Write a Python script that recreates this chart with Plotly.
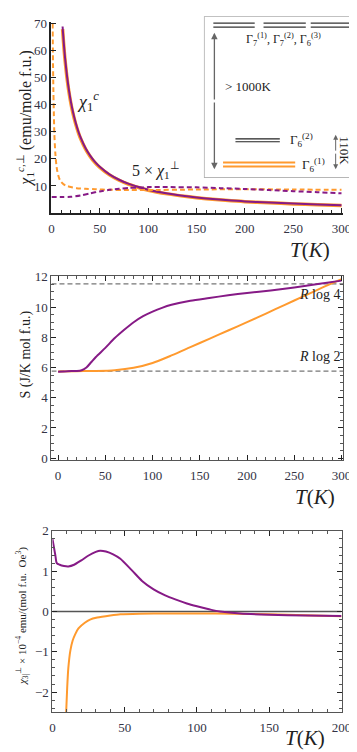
import plotly.graph_objects as go

# --- Panel 1: chi_1 (emu/mole f.u.) ---
t_chic = [11.5, 12, 13, 14, 15, 16, 18, 20, 22, 25, 28, 30, 35, 40, 45, 50, 60, 70, 80, 90,
          100, 120, 140, 160, 180, 200, 225, 250, 275, 300]
chic_purple = [68.8, 66.2, 61.5, 57.4, 54.0, 50.8, 45.5, 41.2, 37.7, 33.4, 29.9, 28.0, 24.1, 21.2,
               18.9, 17.1, 14.3, 12.3, 10.8, 9.6, 8.6, 7.2, 6.2, 5.4, 4.8, 4.3, 3.9, 3.5, 3.2, 2.9]
chic_orange = [67.8, 65.3, 60.6, 56.6, 53.2, 50.0, 44.8, 40.6, 37.1, 32.9, 29.5, 27.6, 23.8, 20.9,
               18.6, 16.8, 14.1, 12.1, 10.6, 9.45, 8.45, 7.1, 6.1, 5.3, 4.7, 4.2, 3.8, 3.4, 3.1, 2.8]

t_perp_or = [1.2, 1.5, 2, 2.5, 3, 4, 5, 6, 8, 10, 13, 16, 20, 26, 35, 45, 60, 80, 100, 150, 200, 250, 300]
perp_orange = [70, 58, 45, 36, 29, 22, 18, 15.5, 12.8, 11.5, 10.5, 10.0, 9.6, 9.2, 9.0, 8.8, 8.6, 8.5,
               8.5, 8.7, 8.8, 8.7, 8.6]
t_perp_pu = [0, 10, 20, 30, 40, 50, 60, 70, 80, 90, 100, 120, 150, 175, 200, 225, 250, 275, 300]
perp_purple = [5.9, 5.9, 6.0, 6.5, 7.3, 8.0, 8.6, 9.0, 9.3, 9.4, 9.6, 9.6, 9.5, 9.2, 8.9, 8.5, 8.1,
               7.7, 7.3]

# --- Panel 2: entropy S (J/K mol f.u.) ---
t_s_pu = [0, 10, 20, 25, 30, 35, 40, 50, 60, 70, 80, 90, 100, 110, 120, 140, 160, 180, 200, 225,
          250, 275, 300]
s_purple = [5.72, 5.76, 5.77, 5.82, 6.0, 6.35, 6.7, 7.3, 7.95, 8.5, 9.0, 9.4, 9.7, 9.95, 10.15,
            10.42, 10.6, 10.78, 10.93, 11.1, 11.3, 11.52, 11.75]
t_s_or = [0, 20, 40, 60, 80, 100, 120, 140, 160, 180, 200, 220, 240, 260, 280, 300]
s_orange = [5.74, 5.76, 5.77, 5.82, 5.98, 6.3, 6.8, 7.35, 7.9, 8.45, 9.0, 9.57, 10.15, 10.72, 11.3, 11.85]
s_levels = [11.53, 5.76]          # R log 4, R log 2
s_level_labels = ["<i>R</i> log 4", "<i>R</i> log 2"]

# --- Panel 3: chi_3 ---
t_c3_pu = [0, 1, 2, 3, 5, 8, 11, 15, 20, 25, 30, 33, 37, 42, 47, 55, 62, 70, 78, 85, 93, 100, 110,
           116, 130, 150, 175, 200]
c3_purple = [1.80, 1.6, 1.4, 1.2, 1.16, 1.13, 1.12, 1.16, 1.27, 1.39, 1.48, 1.51, 1.49, 1.42, 1.31,
             1.02, 0.76, 0.55, 0.40, 0.30, 0.20, 0.13, 0.04, 0.0, -0.05, -0.08, -0.10, -0.11]
t_c3_or = [9.5, 10.2, 11, 12.4, 14, 15.8, 18, 22.4, 26, 31, 40, 47, 60, 80, 100, 125, 150, 175, 200]
c3_orange = [-2.5, -1.9, -1.4, -0.97, -0.72, -0.56, -0.42, -0.28, -0.2, -0.15, -0.1, -0.07, -0.055,
             -0.05, -0.05, -0.055, -0.07, -0.09, -0.12]

# --- inset level scheme (diagram units 0..100) ---
lvl_top = [96.1, 93.7]
lvl_top_x = [(5.8, 33.5), (39.4, 67.7), (71.0, 98.7)]
lvl_g62 = [23.9, 22.1]
lvl_g61 = [9.2, 6.7]

PURPLE = "#861a86"
ORANGE = "#ff9a2e"
W, H = 357, 752
SERIF = "Liberation Serif"
TICKC = "#333344"
SMOOTH = dict(shape="spline", smoothing=0.7)


def py(p):
    return 1 - p / H


def px(p):
    return p / W


fig = go.Figure()

# panel 1
fig.add_trace(go.Scatter(x=t_chic, y=chic_orange, mode="lines",
                         line=dict(color=ORANGE, width=3.5, **SMOOTH), xaxis="x", yaxis="y"))
fig.add_trace(go.Scatter(x=t_chic, y=chic_purple, mode="lines",
                         line=dict(color=PURPLE, width=2, **SMOOTH), xaxis="x", yaxis="y"))
fig.add_trace(go.Scatter(x=t_perp_or, y=perp_orange, mode="lines",
                         line=dict(color=ORANGE, width=2, dash="5px,3px", **SMOOTH), xaxis="x", yaxis="y"))
fig.add_trace(go.Scatter(x=t_perp_pu, y=perp_purple, mode="lines",
                         line=dict(color=PURPLE, width=2, dash="5px,3px", **SMOOTH), xaxis="x", yaxis="y"))

# panel 2
for lv in s_levels:
    fig.add_trace(go.Scatter(x=[-7, 302], y=[lv, lv], mode="lines",
                             line=dict(color="#777777", width=1.2, dash="5px,3px"),
                             xaxis="x2", yaxis="y2"))
fig.add_trace(go.Scatter(x=t_s_or, y=s_orange, mode="lines", line=dict(color=ORANGE, width=2, **SMOOTH),
                         xaxis="x2", yaxis="y2"))
fig.add_trace(go.Scatter(x=t_s_pu, y=s_purple, mode="lines", line=dict(color=PURPLE, width=2, **SMOOTH),
                         xaxis="x2", yaxis="y2"))

# panel 3
fig.add_trace(go.Scatter(x=[0, 200], y=[0, 0], mode="lines", line=dict(color="#555555", width=1.5),
                         xaxis="x3", yaxis="y3"))
fig.add_trace(go.Scatter(x=t_c3_or, y=c3_orange, mode="lines", line=dict(color=ORANGE, width=2, **SMOOTH),
                         xaxis="x3", yaxis="y3"))
fig.add_trace(go.Scatter(x=t_c3_pu, y=c3_purple, mode="lines", line=dict(color=PURPLE, width=2, **SMOOTH),
                         xaxis="x3", yaxis="y3"))

# inset levels
for y0 in lvl_top:
    for xa, xb in lvl_top_x:
        fig.add_trace(go.Scatter(x=[xa, xb], y=[y0, y0], mode="lines",
                                 line=dict(color="#333333", width=1.2), xaxis="x4", yaxis="y4"))
for y0 in lvl_g62:
    fig.add_trace(go.Scatter(x=[20.6, 50.3], y=[y0, y0], mode="lines",
                             line=dict(color="#222222", width=1.2), xaxis="x4", yaxis="y4"))
for y0 in lvl_g61:
    fig.add_trace(go.Scatter(x=[12.3, 60.6], y=[y0, y0], mode="lines",
                             line=dict(color=ORANGE, width=2), xaxis="x4", yaxis="y4"))

tick_font = dict(family=SERIF, size=13, color=TICKC)
common = dict(showgrid=False, zeroline=False, showline=True, linecolor="#222222", tickfont=tick_font,
              ticks="inside", tickcolor="#222222")

fig.update_layout(
    width=W, height=H, margin=dict(l=0, r=0, t=0, b=0),
    paper_bgcolor="white", plot_bgcolor="white", showlegend=False,
    xaxis=dict(common, domain=[px(42), px(345)], range=[0, 302], anchor="y", linewidth=1.5,
               tickvals=[0, 50, 100, 150, 200, 250, 300], ticklen=5, ticklabelstandoff=3,
               minor=dict(dtick=10, tick0=0, ticklen=3, ticks="inside", tickcolor="#222222")),
    yaxis=dict(common, domain=[py(201.6), py(7)], range=[0, 70.5], anchor="x", linewidth=1.5,
               tickvals=[10, 20, 30, 40, 50, 60, 70], ticklen=5),
    xaxis2=dict(common, domain=[px(42), px(345)], range=[-7, 302], anchor="y2", mirror="allticks",
                linewidth=1, linecolor="#555555", tickvals=[0, 50, 100, 150, 200, 250, 300], ticklen=5,
                ticklabelstandoff=3,
                minor=dict(dtick=10, tick0=0, ticklen=3, ticks="inside", tickcolor="#555555")),
    yaxis2=dict(common, domain=[py(453), py(266)], range=[-0.13, 12.03], anchor="x2", mirror="allticks",
                linewidth=1, linecolor="#555555", tickvals=[0, 2, 4, 6, 8, 10, 12], ticklen=5,
                minor=dict(dtick=0.5, tick0=0, ticklen=3, ticks="inside", tickcolor="#555555")),
    xaxis3=dict(common, domain=[px(43), px(343)], range=[0, 200], anchor="y3", mirror="allticks",
                linewidth=1, linecolor="#555555", tickvals=[0, 50, 100, 150, 200], ticklen=5,
                ticklabelstandoff=3,
                minor=dict(dtick=10, tick0=0, ticklen=3, ticks="inside", tickcolor="#555555")),
    yaxis3=dict(common, domain=[py(709.5), py(525)], range=[-2.5, 2], anchor="x3", mirror="allticks",
                linewidth=1, linecolor="#555555", tickvals=[-2, -1, 0, 1, 2], ticklen=5,
                minor=dict(dtick=0.2, tick0=0, ticklen=3, ticks="inside", tickcolor="#555555")),
    xaxis4=dict(domain=[px(201), px(356)], range=[0, 100], anchor="y4", visible=False, fixedrange=True),
    yaxis4=dict(domain=[py(165), py(2)], range=[0, 100], anchor="x4", visible=False, fixedrange=True),
)

# inset frame and arrows
fig.add_shape(type="rect", xref="x4 domain", yref="y4 domain", x0=0, x1=1, y0=0, y1=1,
              line=dict(color="#aaaaaa", width=1.5), fillcolor="rgba(0,0,0,0)", layer="below")
arrow = dict(showarrow=True, arrowhead=2, arrowsize=1, arrowwidth=1.3, arrowcolor="#666666",
             xref="x4", yref="y4", axref="x4", ayref="y4", text="")
fig.add_annotation(arrow, x=6.5, y=90.2, ax=6.5, ay=47.5)
fig.add_annotation(arrow, x=6.5, y=4.9, ax=6.5, ay=47.5)
fig.add_annotation(dict(arrow, arrowwidth=1), x=87.7, y=26.4, ax=87.7, ay=15.6)
fig.add_annotation(dict(arrow, arrowwidth=1), x=87.7, y=4.9, ax=87.7, ay=15.6)

lab = dict(showarrow=False, font=dict(family=SERIF, size=13, color="#222222"))
fig.add_annotation(lab, xref="x4", yref="y4", x=52.9, y=86.0, xanchor="center", yanchor="middle",
                   text="Γ<sub>7</sub><sup>(1)</sup>, Γ<sub>7</sub><sup>(2)</sup>, Γ<sub>6</sub><sup>(3)</sup>",
                   font=dict(family=SERIF, size=12, color="#222222"))
fig.add_annotation(lab, xref="x4", yref="y4", x=12.3, y=56.4, xanchor="left", yanchor="middle",
                   text="&gt; 1000K")
fig.add_annotation(lab, xref="x4", yref="y4", x=55.5, y=23.0, xanchor="left", yanchor="middle",
                   text="Γ<sub>6</sub><sup>(2)</sup>")
fig.add_annotation(lab, xref="x4", yref="y4", x=63.9, y=7.4, xanchor="left", yanchor="middle",
                   text="Γ<sub>6</sub><sup>(1)</sup>")
fig.add_annotation(lab, xref="x4", yref="y4", x=93.5, y=16.6, xanchor="center", yanchor="middle",
                   textangle=90, text="110K")

# curve labels
fig.add_annotation(lab, xref="x", yref="y", x=38, y=41, xanchor="center", yanchor="middle",
                   text="<i>χ</i><sub>1</sub><sup><i>c</i></sup>",
                   font=dict(family=SERIF, size=18, color="#222222"))
fig.add_annotation(lab, xref="x", yref="y", x=108, y=16, xanchor="center", yanchor="middle",
                   text="5 × <i>χ</i><sub>1</sub><sup>⊥</sup>",
                   font=dict(family=SERIF, size=16, color="#222222"))
for lv, txt, yy in zip(s_levels, s_level_labels, [10.85, 6.75]):
    fig.add_annotation(lab, xref="x2", yref="y2", x=300, y=yy, xanchor="right", yanchor="middle",
                       text=txt, font=dict(family=SERIF, size=14, color="#222222"))

# axis titles
tfont = dict(family=SERIF, size=21, color="#222222")
for xp, yp in [(310, 239), (316, 490), (305, 736)]:
    fig.add_annotation(showarrow=False, xref="paper", yref="paper", x=px(xp), y=py(yp),
                       xanchor="center", yanchor="middle", text="<i>T</i>(<i>K</i>)", font=tfont)
fig.add_annotation(showarrow=False, xref="paper", yref="paper", x=px(15), y=py(105), textangle=-90,
                   xanchor="center", yanchor="middle",
                   text="<i>χ</i><sub>1</sub><sup><i>c</i>,⊥</sup> (emu/mole f.u.)",
                   font=dict(family=SERIF, size=16, color="#222222"))
fig.add_annotation(showarrow=False, xref="paper", yref="paper", x=px(16), y=py(345), textangle=-90,
                   xanchor="center", yanchor="middle",
                   text="S (J/K mol f.u.)", font=dict(family=SERIF, size=14, color="#222222"))
fig.add_annotation(showarrow=False, xref="paper", yref="paper", x=px(12), y=py(612), textangle=-90,
                   xanchor="center", yanchor="middle",
                   text="<i>χ</i><sub>3|</sub><sup>⊥</sup> × 10<sup>−4</sup> emu/(mol f.u.  Oe<sup>3</sup>)",
                   font=dict(family=SERIF, size=11, color="#222222"))

fig.write_html("out.html")
